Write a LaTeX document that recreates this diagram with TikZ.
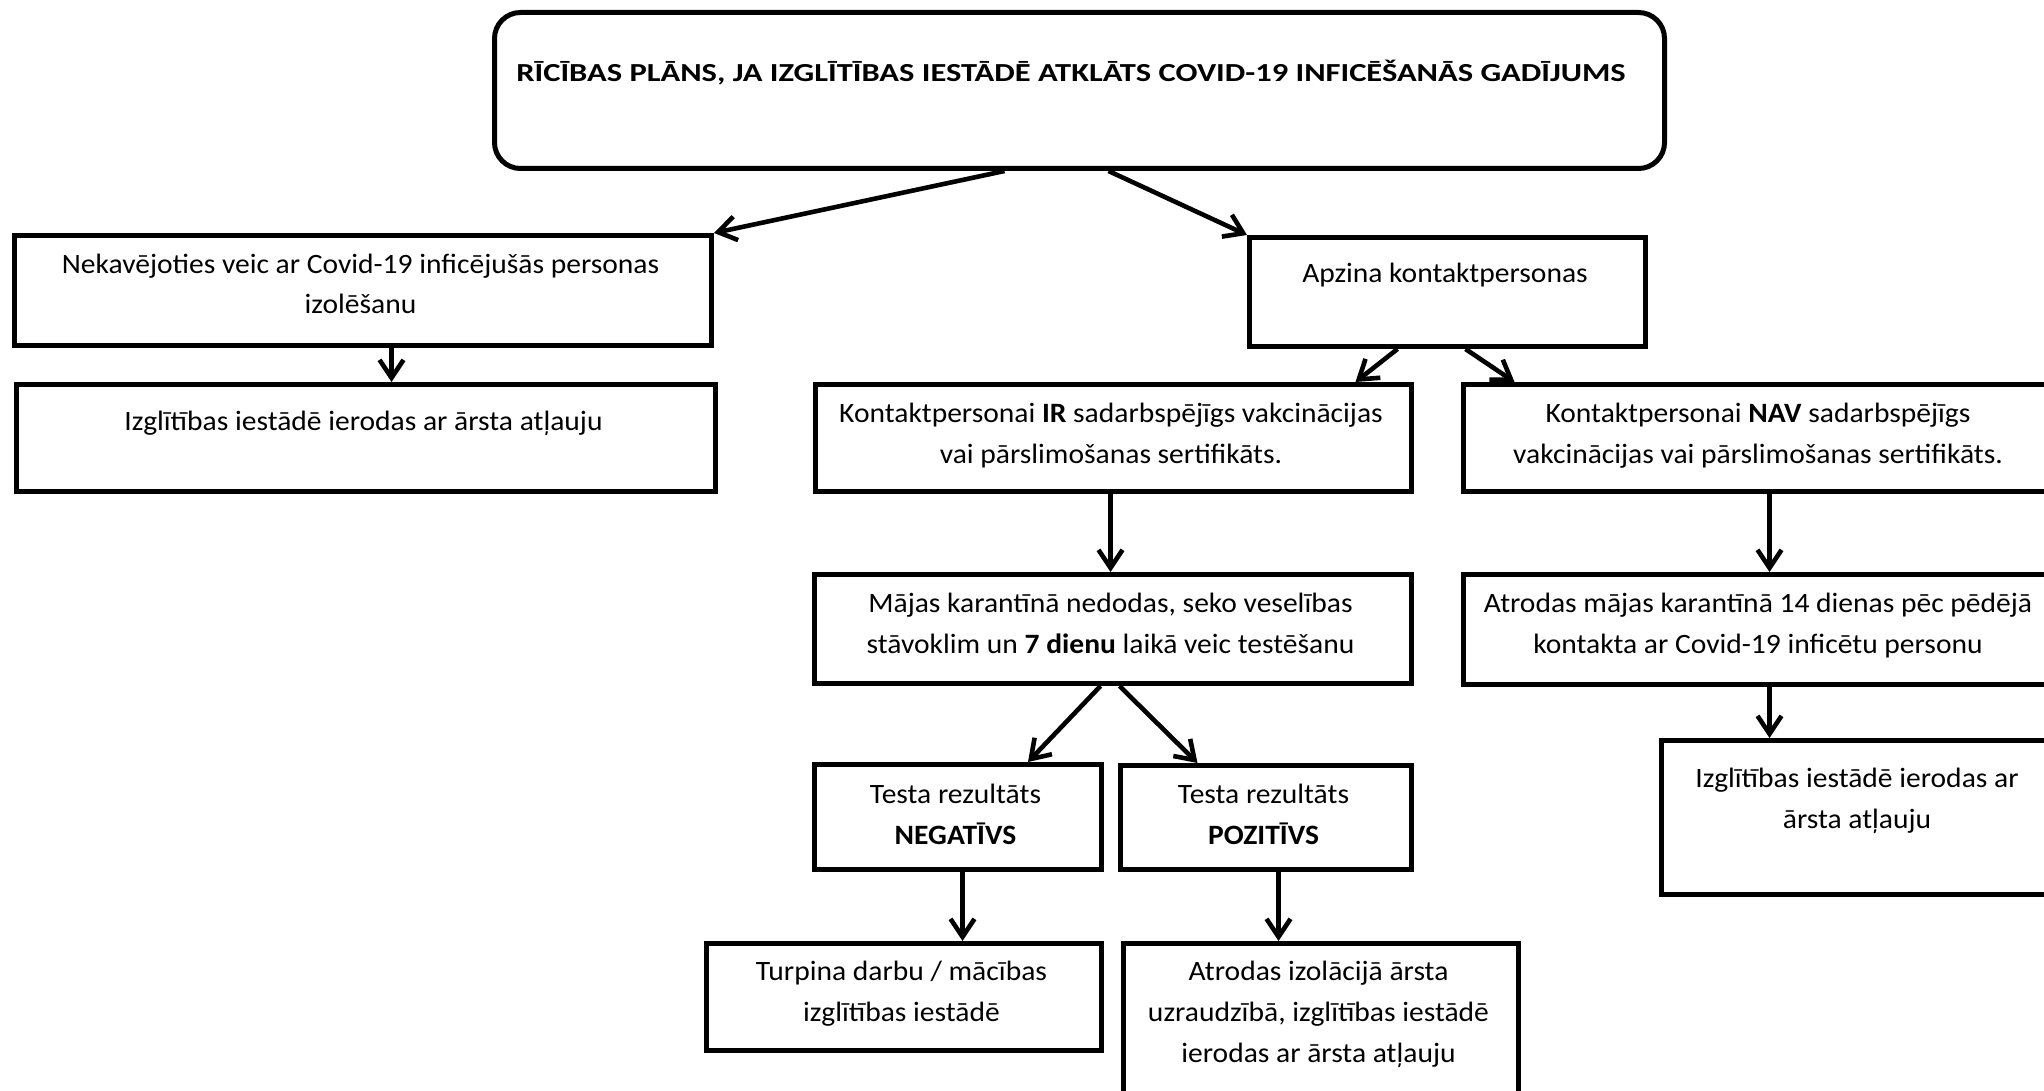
\documentclass[tikz,border=0pt]{standalone}
\usepackage{fontspec}
\setmainfont{Carlito}[FakeStretch=1.055]
\newfontfamily\titlefont{Carlito}[FakeStretch=1.25]
\usetikzlibrary{arrows.meta,calc}
\begin{document}
\begin{tikzpicture}[x=0.5pt,y=-0.5pt,
  box/.style={draw, line width=2.5pt, anchor=north west, inner sep=0pt, rectangle},
  txt/.style={anchor=base, inner sep=0pt, font=\fontsize{14}{20.5}\selectfont},
  arr/.style={line width=2.3pt, -{Straight Barb[length=9pt,width=12pt]}},
]
\useasboundingbox (0,0) rectangle (2044,1091);

% boxes
\node[box, rounded corners=13pt, minimum width=585pt, minimum height=78pt] (title) at (492,10) {};
\node[box, minimum width=348.5pt, minimum height=55pt] (A) at (12,233) {};
\node[box, minimum width=349.5pt, minimum height=53.5pt] (A2) at (14,382) {};
\node[box, minimum width=198pt, minimum height=54.5pt] (B) at (1247,235) {};
\node[box, minimum width=298pt, minimum height=53.5pt] (C) at (813,382) {};
\node[box, minimum width=297pt, minimum height=53.5pt] (D) at (1461,382) {};
\node[box, minimum width=298.5pt, minimum height=54.5pt] (E) at (812,572) {};
\node[box, minimum width=297pt, minimum height=55pt] (F) at (1461,572) {};
\node[box, minimum width=143.5pt, minimum height=52.5pt] (G) at (812,762) {};
\node[box, minimum width=145.5pt, minimum height=52pt] (H) at (1118,763) {};
\node[box, minimum width=197.5pt, minimum height=53.5pt] (I) at (704,941) {};
\node[box, minimum width=197.5pt, minimum height=90pt] (J) at (1121,941) {};
\node[box, minimum width=198pt, minimum height=77pt] (K) at (1659,738) {};

% texts
\node[txt, font=\titlefont\bfseries\fontsize{13}{16}\selectfont] (titlet) at (1071,82) {RĪCĪBAS PLĀNS, JA IZGLĪTĪBAS IESTĀDĒ ATKLĀTS COVID-19 INFICĒŠANĀS GADĪJUMS};
\node[txt] (At) at (360.5,273) {\begin{tabular}[t]{@{}c@{}}Nekavējoties veic ar Covid-19 inficējušās personas\\izolēšanu\end{tabular}};
\node[txt] (A2t) at (363.5,430) {Izglītības iestādē ierodas ar ārsta atļauju};
\node[txt] (Bt) at (1445,283) {Apzina kontaktpersonas};
\node[txt] (Ct) at (1111,422) {\begin{tabular}[t]{@{}c@{}}Kontaktpersonai \textbf{IR} sadarbspējīgs vakcinācijas\\vai pārslimošanas sertifikāts.\end{tabular}};
\node[txt] (Dt) at (1758,422) {\begin{tabular}[t]{@{}c@{}}Kontaktpersonai \textbf{NAV} sadarbspējīgs\\vakcinācijas vai pārslimošanas sertifikāts.\end{tabular}};
\node[txt] (Et) at (1110.5,612) {\begin{tabular}[t]{@{}c@{}}Mājas karantīnā nedodas, seko veselības\\stāvoklim un \textbf{7 dienu} laikā veic testēšanu\end{tabular}};
\node[txt] (Ft) at (1758,612) {\begin{tabular}[t]{@{}c@{}}Atrodas mājas karantīnā 14 dienas pēc pēdējā\\kontakta ar Covid-19 inficētu personu\end{tabular}};
\node[txt] (Gt) at (955.5,803) {\begin{tabular}[t]{@{}c@{}}Testa rezultāts\\\textbf{NEGATĪVS}\end{tabular}};
\node[txt] (Ht) at (1263.5,803) {\begin{tabular}[t]{@{}c@{}}Testa rezultāts\\\textbf{POZITĪVS}\end{tabular}};
\node[txt] (It) at (901.5,980) {\begin{tabular}[t]{@{}c@{}}Turpina darbu / mācības\\izglītības iestādē\end{tabular}};
\node[txt] (Jt) at (1318.5,980) {\begin{tabular}[t]{@{}c@{}}Atrodas izolācijā ārsta\\uzraudzībā, izglītības iestādē\\ierodas ar ārsta atļauju\end{tabular}};
\node[txt] (Kt) at (1857,787) {\begin{tabular}[t]{@{}c@{}}Izglītības iestādē ierodas ar\\ārsta atļauju\end{tabular}};

% arrows
\draw[arr] ($(title.south)+(-75,0)$) -- (A.north east);
\draw[arr] ($(title.south)+(29,0)$) -- (B.north west);
\draw[arr] ($(A.south)+(28.5,0)$) coordinate (a1) -- (a1 |- A2.north);
\draw[arr] ($(B.south)+(-50,0)$) -- ($(C.north)+(242,0)$);
\draw[arr] ($(B.south)+(18,0)$) -- ($(D.north)+(-246,0)$);
\draw[arr] ($(C.south)+(-3,0)$) coordinate (c1) -- (c1 |- E.north);
\draw[arr] ($(D.south)+(9,0)$) coordinate (d1) -- (d1 |- F.north);
\draw[arr] ($(E.south)+(-12.5,0)$) -- ($(G.north)+(70,0)$);
\draw[arr] ($(E.south)+(6.5,0)$) -- ($(H.north)+(-68.5,0)$);
\draw[arr] ($(G.south)+(4.5,0)$) coordinate (g1) -- (g1 |- I.north);
\draw[arr] ($(H.south)+(12.5,0)$) coordinate (h1) -- (h1 |- J.north);
\draw[arr] ($(F.south)+(9,0)$) coordinate (f1) -- (f1 |- K.north);
\end{tikzpicture}
\end{document}
